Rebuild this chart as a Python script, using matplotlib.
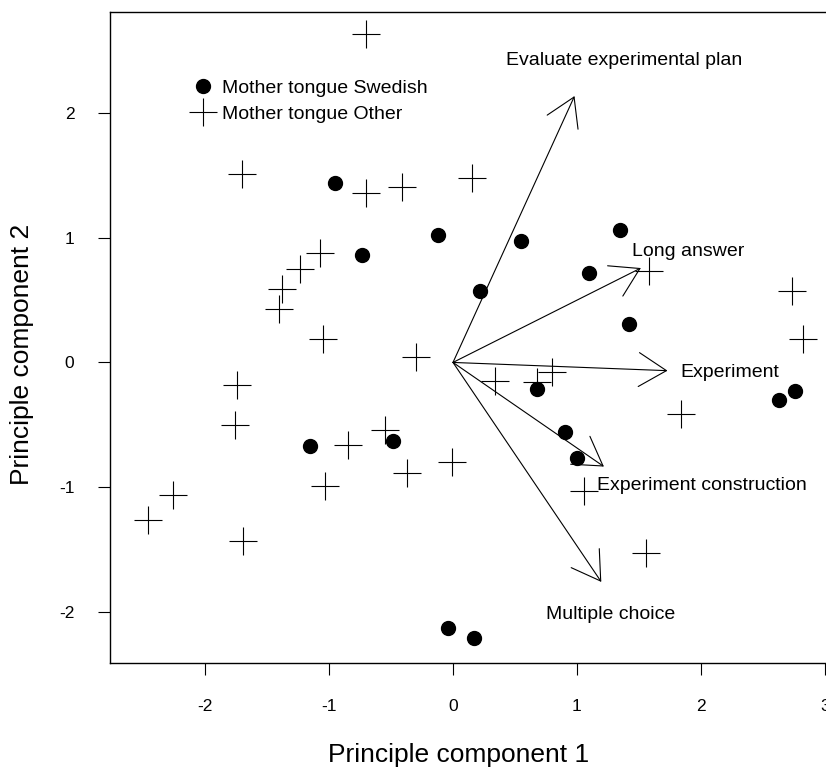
import matplotlib
matplotlib.use("Agg")
import matplotlib.pyplot as plt
from matplotlib.patches import FancyArrowPatch

plt.rcParams['font.family'] = ['Liberation Sans', 'DejaVu Sans']

# Mother tongue Swedish (filled dots)
swe_x = [-0.95, -0.12, -0.73, 0.55, 1.35, 1.10, 0.22, 1.42, 2.76, 2.63, 0.68, 0.90, 1.00, -1.15, -0.48, -0.04, 0.17]
swe_y = [1.44, 1.02, 0.86, 0.97, 1.06, 0.72, 0.57, 0.31, -0.23, -0.30, -0.21, -0.56, -0.77, -0.67, -0.63, -2.13, -2.21]

# Mother tongue Other (crosses)
oth_x = [-0.70, -1.70, -0.70, -0.41, 0.15, -1.07, -1.23, -1.38, -1.40, -1.05, -0.30, -1.74, -1.76,
         -0.85, -0.55, -0.37, -0.01, -2.26, -2.46, -1.03, -1.69, 1.58, 2.73, 2.82, 0.34, 0.80, 0.68,
         1.84, 1.06, 1.56]
oth_y = [2.63, 1.51, 1.36, 1.41, 1.48, 0.88, 0.75, 0.59, 0.43, 0.19, 0.04, -0.18, -0.50,
         -0.66, -0.54, -0.89, -0.80, -1.06, -1.26, -0.99, -1.43, 0.73, 0.57, 0.19, -0.15, -0.08, -0.16,
         -0.41, -1.03, -1.53]

# Loading arrows
var_names = ["Evaluate experimental plan", "Long answer", "Experiment",
             "Experiment construction", "Multiple choice"]
arrow_x = [0.98, 1.515, 1.73, 1.217, 1.196]
arrow_y = [2.136, 0.757, -0.066, -0.835, -1.76]
label_x = [1.38, 1.90, 2.23, 2.01, 1.27]
label_y = [2.42, 0.89, -0.08, -0.99, -2.02]

x_ticks = [-2, -1, 0, 1, 2, 3]
y_ticks = [-2, -1, 0, 1, 2]

W, H = 826, 767
fig = plt.figure(figsize=(W / 100, H / 100), dpi=100)
ax = fig.add_axes([110 / W, (H - 663) / H, (W - 110) / W, (663 - 12) / H])

ax.plot(swe_x, swe_y, linestyle='none', marker='o', markersize=10, color='black',
        label='Mother tongue Swedish')
ax.plot(oth_x, oth_y, linestyle='none', marker='+', markersize=19.5, markeredgewidth=0.8,
        color='black', label='Mother tongue Other')

for ax_, ay_, lx, ly, name in zip(arrow_x, arrow_y, label_x, label_y, var_names):
    arr = FancyArrowPatch((0, 0), (ax_, ay_), arrowstyle='->,head_length=19.9,head_width=12.2',
                          mutation_scale=1, shrinkA=0, shrinkB=0, color='black', linewidth=0.8)
    ax.add_patch(arr)
    ax.text(lx, ly, name, ha='center', va='center', fontsize=14)

ax.set_xlim(-2.766, 3.008)
ax.set_ylim(-2.41, 2.81)
ax.set_xticks(x_ticks)
ax.set_yticks(y_ticks)
ax.set_xticklabels([str(t) for t in x_ticks])
ax.set_yticklabels([str(t) for t in y_ticks])
ax.tick_params(direction='out', length=8.6, width=0.8, pad=17, labelsize=12.5)
for s in ['left', 'bottom', 'top']:
    ax.spines[s].set_linewidth(1.0)
ax.spines['right'].set_visible(False)

ax.set_xlabel('Principle component 1', fontsize=19)
ax.set_ylabel('Principle component 2', fontsize=19)
ax.xaxis.set_label_coords((459 - 110) / 716, (663 - 755) / 651)
ax.xaxis.label.set_va('center')
ax.yaxis.set_label_coords((22 - 110) / 716, (663 - 354) / 651)
ax.yaxis.label.set_va('center')

leg = ax.legend(loc='center left', bbox_to_anchor=(193.3 / W, 1 - 101 / H),
                bbox_transform=fig.transFigure, frameon=False, fontsize=14,
                borderpad=0, borderaxespad=0, handlelength=1.0, handletextpad=0.5,
                labelspacing=0.42, numpoints=1)

fig.savefig('out.png', dpi=100)
